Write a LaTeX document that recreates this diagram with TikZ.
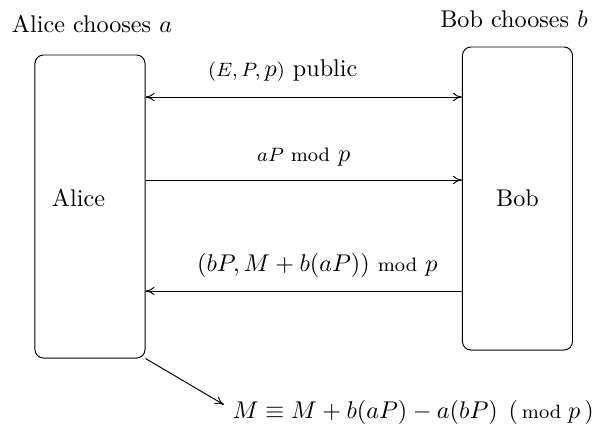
\documentclass[tikz,border=0pt]{standalone}
\usepackage{amsmath, amssymb}
\usetikzlibrary{arrows.meta, positioning, calc}
\tikzset{
  party/.style={rectangle, rounded corners=3.5pt, draw, thin,
    minimum width=45.5pt, minimum height=125.3pt, align=center},
  arrow/.style={-{To[length=1.3mm, width=1.2mm]}, thin},
  biarrow/.style={{To[length=1.3mm, width=1.2mm]}-{To[length=1.3mm, width=1.2mm]}, thin}
}

\begin{document}
\begin{tikzpicture}[x=0.4135pt, y=-0.4135pt]
  \useasboundingbox (0,0) rectangle (602,439);
  \node[party] (alice) at (90,206.5) {};
  \node[party] (bob) at (517.5,198.5) {Bob};
  \node (alicetxt) at (78.5,198) {Alice};
  \node (alicepick) at (92,24) {Alice chooses $a$};
  \node (bobpick) at (514,19) {Bob chooses $b$};
  \node[anchor=west] (res) at (224,412)
    {$M \equiv M + b(aP) - a(bP)\;\,(\,\text{\footnotesize mod}\;p\,)$};
  \draw[biarrow] (alice.east |- 0,97) -- (bob.west |- 0,97)
    node[midway, above=3pt, xshift=-8.7pt] (pub)
    {{\footnotesize$(E,P,$}\,$p${\footnotesize$)$}\ public};
  \draw[arrow] (alice.east |- 0,180) -- (bob.west |- 0,180)
    node[midway, above=2pt] (ap) {{\footnotesize$aP$ mod} $p$};
  \draw[arrow] (bob.west |- 0,291) -- (alice.east |- 0,291)
    node[midway, above=2pt, xshift=5.6pt] (cipher)
    {$(bP, M+b(aP))$ {\footnotesize mod} $p$};
  \draw[arrow] (alice.south east) -- ([yshift=3pt]res.west);
\end{tikzpicture}
\end{document}
